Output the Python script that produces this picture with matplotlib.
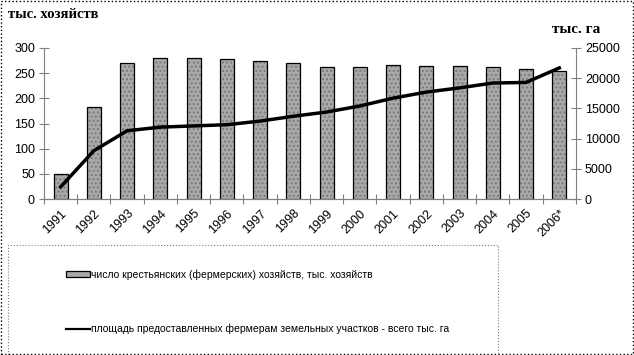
import numpy as np
import matplotlib
matplotlib.use('Agg')
import matplotlib.pyplot as plt
from matplotlib.patches import Rectangle, Patch
from matplotlib.lines import Line2D

years = ['1991', '1992', '1993', '1994', '1995', '1996', '1997', '1998',
         '1999', '2000', '2001', '2002', '2003', '2004', '2005', '2006*']
farms = [50, 183, 271, 280, 280, 278, 275, 271,
         262, 262, 266, 264, 264, 262, 258, 254]
area = [2000, 8000, 11300, 11900, 12100, 12300, 12900, 13700,
        14400, 15400, 16700, 17700, 18400, 19200, 19300, 21700]

label_bars = 'число крестьянских (фермерских) хозяйств, тыс. хозяйств'
label_line = 'площадь предоставленных фермерам земельных участков - всего тыс. га'

plt.rcParams['font.family'] = ['Liberation Sans', 'DejaVu Sans']

fig = plt.figure(figsize=(6.34, 3.55), dpi=100)
ax = fig.add_axes([0.0694, 0.4394, 0.839, 0.4254])
x = np.arange(len(years))

# dotted grey fill, then black outline on top
ax.bar(x, farms, width=0.42, color='#a9a9a9', edgecolor='#7a7a7a',
       linewidth=0, hatch='....')
ax.bar(x, farms, width=0.42, fill=False, edgecolor='black', linewidth=0.9)
ax.set_xlim(-0.5, len(years) - 0.5)
ax.set_ylim(0, 300)
ax.set_yticks(np.arange(0, 301, 50))

ax2 = ax.twinx()
ax2.plot(x, area, color='black', lw=2.5)
ax2.set_ylim(0, 25000)
ax2.set_yticks(np.arange(0, 25001, 5000))

for a in (ax, ax2):
    a.spines['top'].set_visible(False)
    for s in a.spines.values():
        s.set_color('#808080')
        s.set_linewidth(0.8)
    a.tick_params(axis='y', direction='inout', length=7, width=0.8,
                  color='#808080', labelsize=9, pad=3)
ax2.spines['left'].set_visible(False)
ax.spines['right'].set_visible(False)

ax.set_xticks(x)
ax.set_xticklabels(years, rotation=45, ha='right', rotation_mode='anchor',
                   fontsize=9)
ax.tick_params(axis='x', which='major', length=0, pad=6)
ax.set_xticks(np.arange(-0.5, len(years)), minor=True)
ax.tick_params(axis='x', which='minor', direction='inout', length=7,
               width=0.8, color='#808080')

fig.text(0.013, 0.958, 'тыс. хозяйств', fontsize=10.5, fontweight='bold',
         family='Liberation Serif', va='center', ha='left')
fig.text(0.870, 0.918, 'тыс. га', fontsize=11, fontweight='bold',
         family='Liberation Serif', va='center', ha='left')

# legend box
fig.patches.append(Rectangle((8 / 634, 0), 490 / 634, 110 / 355,
                             transform=fig.transFigure, fill=False,
                             edgecolor='#808080', lw=0.8, ls=':'))
h_bar = Patch(facecolor='#a9a9a9', edgecolor='black', linewidth=0.9)
h_line = Line2D([], [], color='black', lw=1.6)
fig.legend([h_bar, h_line], [label_bars, label_line], loc='upper left',
           bbox_to_anchor=(62 / 634, 1 - 265 / 355), frameon=False,
           fontsize=7.5, labelspacing=4.2, handlelength=2.3, handleheight=0.5,
           handletextpad=0.1, borderaxespad=0)

# outer border
fig.patches.append(Rectangle((0.002, 0.003), 0.996, 0.994,
                             transform=fig.transFigure, fill=False,
                             edgecolor='black', lw=1.0, ls=':'))

fig.savefig('out.png', dpi=100)
